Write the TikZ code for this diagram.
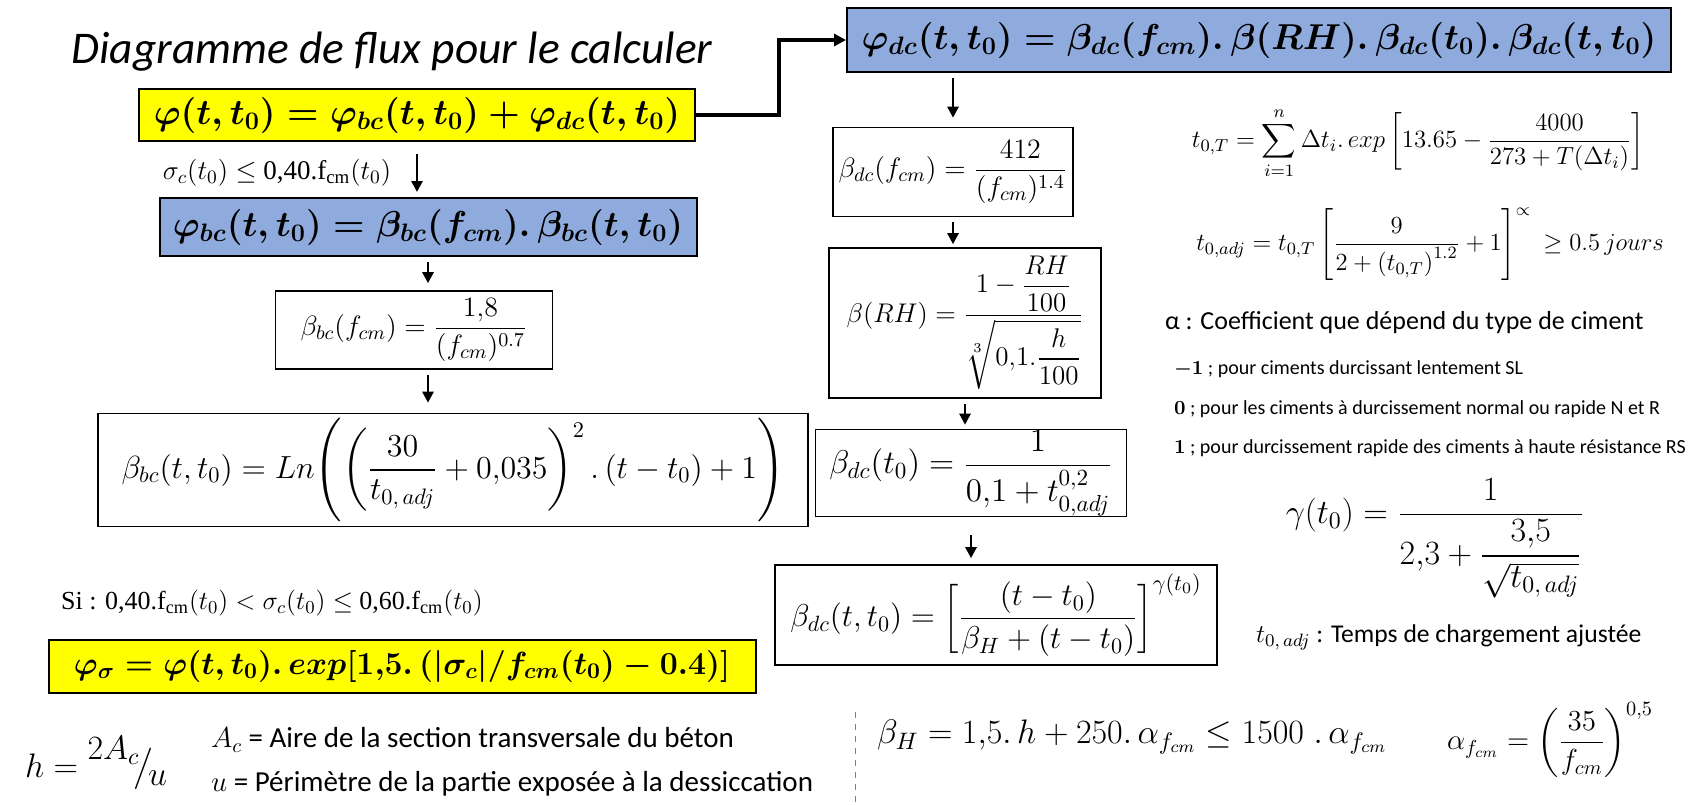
\documentclass[tikz,border=0pt]{standalone}
\usepackage{fix-cm}
\usepackage{amsmath,bm}
\usepackage{fontspec}
\setmainfont{Carlito}
\newfontfamily\timesfont{Liberation Serif}
\usetikzlibrary{arrows.meta,positioning,calc}
\definecolor{flYellow}{RGB}{255,255,0}
\definecolor{flBlue}{RGB}{143,170,220}

\begin{document}
\begin{tikzpicture}[x=0.5pt,y=-0.5pt,
      ybox/.style={draw,line width=1pt,fill=flYellow,inner sep=0pt,
                   font=\fontsize{18}{20}\selectfont\boldmath},
      bbox/.style={draw,line width=1pt,fill=flBlue,inner sep=0pt,
                   font=\fontsize{18}{20}\selectfont\boldmath},
      eqbox/.style={draw,line width=0.8pt,fill=white,inner sep=0pt,
                    font=\fontsize{14}{16}\selectfont},
      note/.style={anchor=west,font=\fontsize{14.5}{16}\selectfont},
      arr/.style={-{Triangle[length=5.5pt,width=5.5pt]},line width=1.3pt},
      bigarr/.style={-{Triangle[length=6pt,width=6pt]},line width=2.2pt}]
    \useasboundingbox (0,0) rectangle (1700,804);

    \node (title) at (392,52) {\fontsize{22.7}{26}\selectfont\itshape Diagramme de flux pour le calculer};

    % left column
    \node[ybox,minimum width=278pt,minimum height=26pt] (phi) at (417,115)
      {$\varphi(t,t_0)=\varphi_{bc}(t,t_0)+\varphi_{dc}(t,t_0)$};
    \node[font=\timesfont\fontsize{13.5}{15}\selectfont] (cond1) at (277,173)
      {$\sigma_c(t_0)\leq$ 0,40.f\textsubscript{cm}$(t_0)$};
    \node[bbox,minimum width=268.5pt,minimum height=29pt] (phibc) at (428,227)
      {$\varphi_{bc}(t,t_0)=\beta_{bc}(f_{cm}).\,\beta_{bc}(t,t_0)$};
    \node[eqbox,minimum width=138.5pt,minimum height=39pt] (bcf) at (414,330)
      {$\beta_{bc}(f_{cm})=\dfrac{1{,}8}{(f_{cm})^{0.7}}$};
    \node[eqbox,font=\fontsize{16}{18}\selectfont,minimum width=355pt,minimum height=56.5pt] (bctt) at (453,470)
      {$\beta_{bc}(t,t_0)=Ln\Biggl(\left(\dfrac{30}{t_{0,\,adj}}+0{,}035\right)^{2}.\,(t-t_0)+1\Biggr)$};
    \node[anchor=west,font=\timesfont\fontsize{13}{15}\selectfont] (cond2) at (54,603)
      {Si : 0,40.f\textsubscript{cm}$(t_0)<\sigma_c(t_0)\leq$ 0,60.f\textsubscript{cm}$(t_0)$};
    \node[ybox,font=\fontsize{16}{18}\selectfont\boldmath,minimum width=353.5pt,minimum height=26.5pt] (phisig) at (402,666)
      {$\varphi_\sigma=\varphi(t,t_0).\,exp[1{,}5.\,(|\sigma_c|/f_{cm}(t_0)-0.4)]$};
    \node[anchor=west,font=\fontsize{17}{19}\selectfont] (hdef) at (18,763)
      {$h=\raisebox{1.1ex}{$2A_c$}\!\big/\!\raisebox{-0.5ex}{$u$}$};
    \node[note] (acdef) at (204,740) {$A_c$ = Aire de la section transversale du béton};
    \node[note] (udef) at (204,784) {$u$ = Périmètre de la partie exposée à la dessiccation};

    % middle column
    \node[bbox,minimum width=412pt,minimum height=32pt] (phidc) at (1259,40)
      {$\varphi_{dc}(t,t_0)=\beta_{dc}(f_{cm}).\,\beta(RH).\,\beta_{dc}(t_0).\,\beta_{dc}(t,t_0)$};
    \node[eqbox,minimum width=120pt,minimum height=44.5pt] (dcf) at (953,172)
      {$\beta_{dc}(f_{cm})=\dfrac{412}{(f_{cm})^{1.4}}$};
    \node[eqbox,font=\fontsize{13.5}{15}\selectfont,minimum width=136pt,minimum height=75pt] (rh) at (965,323)
      {$\beta(RH)=\dfrac{1-\dfrac{RH}{100}}{\sqrt[3]{0{,}1.\dfrac{h}{100}}}$};
    \node[eqbox,font=\fontsize{16.5}{18}\selectfont,minimum width=155.5pt,minimum height=43.5pt] (dct0) at (971,473)
      {$\beta_{dc}(t_0)=\dfrac{1}{0{,}1+t_{0,adj}^{0{,}2}}$};
    \node[eqbox,font=\fontsize{15.8}{18}\selectfont,minimum width=221pt,minimum height=50pt] (dctt) at (996,615)
      {$\beta_{dc}(t,t_0)=\left[\dfrac{(t-t_0)}{\beta_H+(t-t_0)}\right]^{\gamma(t_0)}$};
    \node[anchor=west,font=\fontsize{17}{19}\selectfont] (betaH) at (870,737)
      {$\beta_H=1{,}5.\,h+250.\,\alpha_{f_{cm}}\leq 1500\;.\,\alpha_{f_{cm}}$};
    \draw[dashed,line width=0.4pt,gray] (855,712) -- (855,804);

    % right column
    \node[font=\fontsize{12.4}{14}\selectfont] (t0T) at (1418,143)
      {$t_{0,T}=\displaystyle\sum_{i=1}^{n}\Delta t_i.\,exp\left[13.65-\frac{4000}{273+T(\Delta t_i)}\right]$};
    \node[font=\fontsize{12.3}{14}\selectfont] (t0adj) at (1430,244)
      {$t_{0,adj}=t_{0,T}\left[\dfrac{9}{2+\left(t_{0,T}\right)^{1.2}}+1\right]^{\propto}\ \geq 0.5\,jours$};
    \node[note,font=\fontsize{13}{15}\selectfont] (alpha) at (1158,323) {α : Coefficient que dépend du type de ciment};
    \node[note,font=\fontsize{10}{12}\selectfont] (sl) at (1167,369)
      {$\bm{-1}$ ; pour ciments durcissant lentement SL};
    \node[note,font=\fontsize{10}{12}\selectfont] (nr) at (1167,409)
      {$\bm{0}$ ; pour les ciments à durcissement normal ou rapide N et R};
    \node[note,font=\fontsize{10}{12}\selectfont] (rs) at (1167,448)
      {$\bm{1}$ ; pour durcissement rapide des ciments à haute résistance RS};
    \node[font=\fontsize{17}{19}\selectfont] (gam) at (1435,538)
      {$\gamma(t_0)=\dfrac{1}{2{,}3+\dfrac{3{,}5}{\sqrt{t_{0,\,adj}}}}$};
    \node[note,font=\fontsize{12.8}{15}\selectfont] (adjdef) at (1249,637)
      {$t_{0,\,adj}$ : Temps de chargement ajustée};
    \node[anchor=west,font=\fontsize{14.5}{16}\selectfont] (afcm) at (1440,740)
      {$\alpha_{f_{cm}}=\left(\dfrac{35}{f_{cm}}\right)^{0{,}5}$};

    % connectors
    \draw[bigarr] (phi.east) -- ++(83,0) |- (phidc.west);
    \draw[arr,shorten <=6pt,shorten >=2.5pt] (phi.south) -- (phi.south |- phibc.north);
    \draw[arr,shorten <=2.5pt,shorten >=3.5pt] (phibc.south) -- (phibc.south |- bcf.north);
    \draw[arr,shorten <=2.5pt,shorten >=5pt] ([xshift=7pt]bcf.south) -- ([xshift=7pt]bcf.south |- bctt.north);
    \draw[arr,shorten <=2.5pt,shorten >=4.5pt] (dcf.north |- phidc.south) -- (dcf.north);
    \draw[arr,shorten <=2.5pt,shorten >=1.5pt] (dcf.south) -- (dcf.south |- rh.north);
    \draw[arr,shorten <=2.5pt,shorten >=2pt] (rh.south) -- (rh.south |- dct0.north);
    \draw[arr,shorten <=9pt,shorten >=3pt] (dct0.south) -- (dct0.south |- dctt.north);
  \end{tikzpicture}
\end{document}
